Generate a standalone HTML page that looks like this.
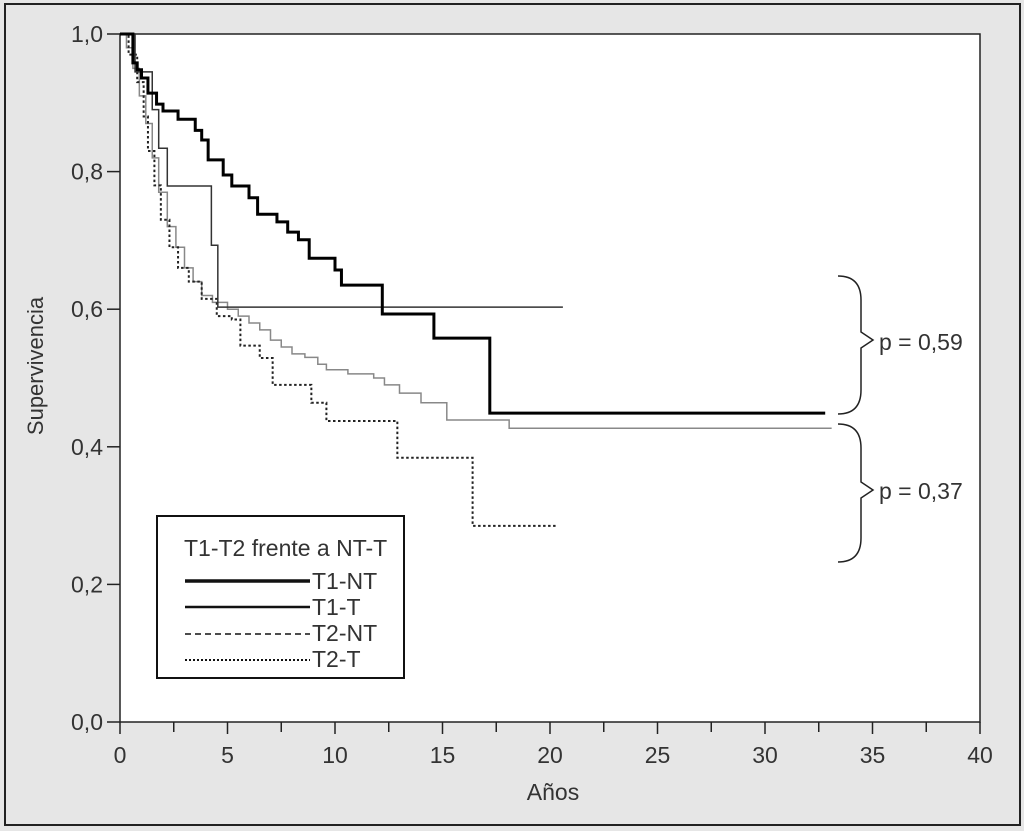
<!DOCTYPE html>
<html><head><meta charset="utf-8"><style>
html,body{margin:0;padding:0;background:#e6e6e6;}
svg{display:block;font-family:"Liberation Sans",sans-serif;}
</style></head><body>
<svg id="chart" width="1024" height="831" viewBox="0 0 1024 831">
<rect x="5" y="4" width="1015" height="821" fill="#e6e6e6" stroke="#222" stroke-width="2"/>
<rect x="120" y="34" width="860" height="688" fill="#fff" stroke="#222" stroke-width="1.5"/>
<g id="axes"></g>
<g id="series"></g>
<text x="0" y="0" transform="translate(43,366) rotate(-90)" text-anchor="middle" font-size="22" fill="#333">Supervivencia</text>
<text x="553" y="800" text-anchor="middle" font-size="23" fill="#333">Años</text>
<path d="M838,276 Q861,276 861,300 L861,332 L873,340 L861,348 L861,390 Q861,414 838,414" fill="none" stroke="#222" stroke-width="1.5"/>
<text x="879" y="350" font-size="23" fill="#333">p = 0,59</text>
<path d="M838,424 Q861,424 861,448 L861,482 L873,490 L861,498 L861,538 Q861,562 838,562" fill="none" stroke="#222" stroke-width="1.5"/>
<text x="879" y="499" font-size="23" fill="#333">p = 0,37</text>
<g>
<rect x="157" y="516" width="247" height="162" fill="#fff" stroke="#111" stroke-width="2"/>
<text x="184" y="556" font-size="23" fill="#333">T1-T2 frente a NT-T</text>
<line x1="185" y1="581" x2="310" y2="581" stroke="#111" stroke-width="3.5"/>
<text x="312" y="589" font-size="23" fill="#333">T1-NT</text>
<line x1="185" y1="607" x2="310" y2="607" stroke="#111" stroke-width="2.5"/>
<text x="312" y="615" font-size="23" fill="#333">T1-T</text>
<line x1="185" y1="634" x2="310" y2="634" stroke="#111" stroke-width="1.5" stroke-dasharray="6,4"/>
<text x="312" y="641" font-size="23" fill="#333">T2-NT</text>
<line x1="185" y1="660" x2="310" y2="660" stroke="#111" stroke-width="2" stroke-dasharray="2,2"/>
<text x="312" y="667" font-size="23" fill="#333">T2-T</text>
</g>
</svg>
<script>
const xTicks = [0,5,10,15,20,25,30,35,40];
const xMinor = [2.5,7.5,12.5,17.5,22.5,27.5,32.5,37.5];
const yTicks = [0,0.2,0.4,0.6,0.8,1.0];
const yTickLabels = ["0,0","0,2","0,4","0,6","0,8","1,0"];
const t1ntTime = [0,0.6,0.8,1.0,1.3,1.7,2.0,2.7,3.5,3.8,4.1,4.8,5.2,6.0,6.4,7.3,7.8,8.3,8.8,10.0,10.3,12.2,14.6,17.2];
const t1ntSurv = [1,0.958,0.948,0.936,0.914,0.898,0.888,0.876,0.86,0.846,0.817,0.795,0.779,0.762,0.738,0.727,0.712,0.701,0.674,0.657,0.635,0.593,0.558,0.449];
const t1ntEnd = 32.8;
const t1tTime = [0,0.7,1.5,1.8,2.2,4.25,4.55];
const t1tSurv = [1,0.945,0.89,0.834,0.779,0.693,0.603];
const t1tEnd = 20.6;
const t2ntTime = [0,0.3,0.6,0.9,1.2,1.5,1.8,2.2,2.6,3.0,3.4,3.8,4.3,5.0,5.5,6.0,6.5,7.0,7.5,8.0,8.6,9.2,9.6,10.6,11.8,12.3,13.0,14.0,15.2,18.1];
const t2ntSurv = [1,0.98,0.95,0.91,0.87,0.82,0.77,0.72,0.69,0.66,0.64,0.62,0.61,0.6,0.59,0.58,0.57,0.555,0.545,0.535,0.53,0.52,0.512,0.506,0.5,0.49,0.478,0.464,0.439,0.427];
const t2ntEnd = 33.1;
const t2tTime = [0,0.4,0.8,1.1,1.3,1.6,1.9,2.3,2.7,3.2,3.8,4.5,5.2,5.6,6.5,7.1,8.9,9.6,12.9,16.4];
const t2tSurv = [1,0.97,0.93,0.88,0.83,0.78,0.73,0.69,0.66,0.64,0.615,0.59,0.585,0.547,0.529,0.49,0.464,0.4375,0.384,0.285];
const t2tEnd = 20.3;

const NS="http://www.w3.org/2000/svg";
const X=t=>120+t*21.5;
const Y=s=>722-s*688;
const axes=document.getElementById('axes'), ser=document.getElementById('series');
function mk(tag,attrs,parent){const e=document.createElementNS(NS,tag);for(const k in attrs)e.setAttribute(k,attrs[k]);parent.appendChild(e);return e;}
xTicks.forEach(v=>{
  const l=mk('line',{x1:X(v),x2:X(v),y1:722,y2:734,stroke:'#222','stroke-width':1.5},axes);
  
  
  const t=mk('text',{x:X(v),y:763,'text-anchor':'middle','font-size':23,fill:'#333'},axes);
  t.textContent=v;
  
  
});
xMinor.forEach(v=>{
  const l=mk('line',{x1:X(v),x2:X(v),y1:722,y2:732,stroke:'#222','stroke-width':1.5},axes);
  
  
});
yTicks.forEach((v,i)=>{
  const l=mk('line',{x1:107,x2:120,y1:Y(v),y2:Y(v),stroke:'#222','stroke-width':1.5},axes);
  
  
  const t=mk('text',{x:103,y:Y(v)+8,'text-anchor':'end','font-size':23,fill:'#333'},axes);
  t.textContent=yTickLabels[i];
  
  
});
function step(times,surv,end){
  let d='M'+X(times[0])+','+Y(surv[0]);
  for(let i=1;i<times.length;i++){d+=' H'+X(times[i])+' V'+Y(surv[i]);}
  d+=' H'+X(end);return d;
}
const specs=[
 [t2ntTime,t2ntSurv,t2ntEnd,{stroke:'#888','stroke-width':1.5},'curve-t2-nt'],
 [t2tTime,t2tSurv,t2tEnd,{stroke:'#222','stroke-width':2,'stroke-dasharray':'2.5,2.5'},'curve-t2-t'],
 [t1tTime,t1tSurv,t1tEnd,{stroke:'#333','stroke-width':1.5},'curve-t1-t'],
 [t1ntTime,t1ntSurv,t1ntEnd,{stroke:'#000','stroke-width':3},'curve-t1-nt']
];
specs.forEach(s=>{
  const p=mk('path',Object.assign({d:step(s[0],s[1],s[2]),fill:'none'},s[3]),ser);
  
  
});
</script>
</body></html>
